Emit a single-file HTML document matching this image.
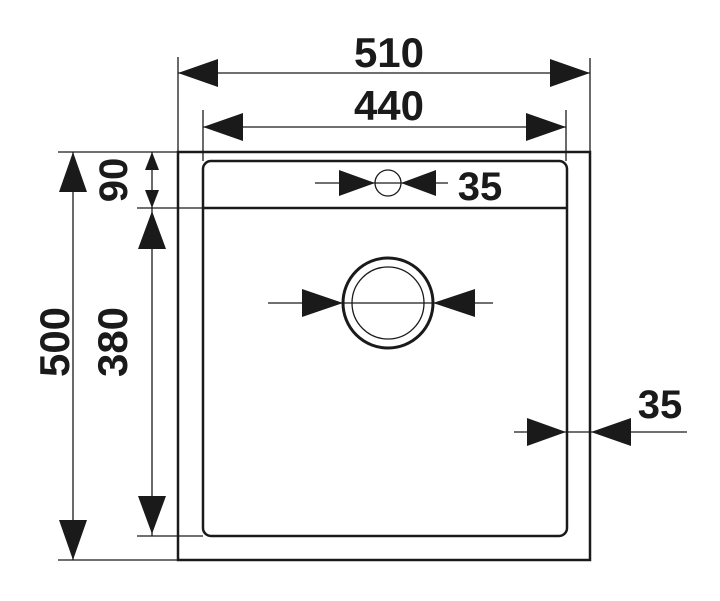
<!DOCTYPE html>
<html><head><meta charset="utf-8"><style>
html,body{margin:0;padding:0;background:#fff;}
svg{display:block;}
text{font-family:"Liberation Sans",sans-serif;font-weight:bold;fill:#1a1a1a;}
</style></head><body>
<svg width="720" height="601" viewBox="0 0 720 601" xmlns="http://www.w3.org/2000/svg">
<g stroke="#1a1a1a" fill="none">
 <rect x="178" y="152" width="412" height="408" stroke-width="2.5"/>
 <rect x="203" y="161" width="364" height="375" rx="8" stroke-width="2.5"/>
 <line x1="203" y1="208" x2="568" y2="208" stroke-width="2.5"/>
 <!-- extension lines -->
 <g stroke-width="1.3">
  <line x1="178" y1="57" x2="178" y2="152"/>
  <line x1="590" y1="58" x2="590" y2="152"/>
  <line x1="203" y1="110" x2="203" y2="161"/>
  <line x1="566" y1="110" x2="566" y2="161"/>
  <line x1="58" y1="152" x2="178" y2="152"/>
  <line x1="58" y1="560" x2="178" y2="560"/>
  <line x1="137" y1="208" x2="203" y2="208"/>
  <line x1="137" y1="536" x2="203" y2="536"/>
  <!-- dimension lines -->
  <line x1="178" y1="73" x2="590" y2="73"/>
  <line x1="203" y1="127" x2="566" y2="127"/>
  <line x1="73" y1="152" x2="73" y2="560"/>
  <line x1="152" y1="152" x2="152" y2="208"/>
  <line x1="152" y1="208" x2="152" y2="536"/>
  <line x1="315" y1="183" x2="448" y2="183"/>
  <line x1="268" y1="303" x2="493" y2="303"/>
  <line x1="514" y1="432" x2="687" y2="432"/>
  <circle cx="388" cy="183" r="13"/>
  <circle cx="388" cy="303" r="36"/>
 </g>
 <circle cx="388" cy="303" r="45" stroke-width="3"/>
</g>
<g fill="#1a1a1a">
 <polygon points="178,73 218,59 218,87"/>
 <polygon points="590,73 550,59 550,87"/>
 <polygon points="203,127 243,113 243,141"/>
 <polygon points="566,127 526,113 526,141"/>
 <polygon points="73,152 59,192 87,192"/>
 <polygon points="73,560 59,520 87,520"/>
 <polygon points="152,152 145,170 159,170"/>
 <polygon points="152,208 145,190 159,190"/>
 <polygon points="152,211 138,249 166,249"/>
 <polygon points="152,534 138,496 166,496"/>
 <polygon points="375,183 339,170 339,196"/>
 <polygon points="401,183 436,170 436,196"/>
 <polygon points="343,303 302,289 302,317"/>
 <polygon points="433,303 475,289 475,317"/>
 <polygon points="566,432 527,418 527,446"/>
 <polygon points="591,432 631,418 631,446"/>
</g>
<text x="389" y="67" font-size="42" text-anchor="middle">510</text>
<text x="389" y="120" font-size="42" text-anchor="middle">440</text>
<text x="480" y="200" font-size="40" text-anchor="middle">35</text>
<text x="660" y="418" font-size="40" text-anchor="middle">35</text>
<text transform="translate(69,342) rotate(-90)" font-size="42" text-anchor="middle">500</text>
<text transform="translate(127,342) rotate(-90)" font-size="42" text-anchor="middle">380</text>
<text transform="translate(127,180) rotate(-90)" font-size="40" text-anchor="middle">90</text>
</svg>
</body></html>
